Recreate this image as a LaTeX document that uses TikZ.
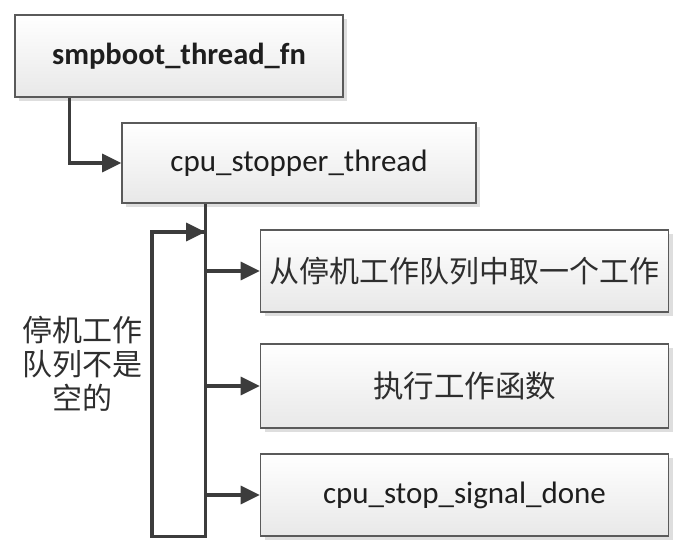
\documentclass[tikz,border=0pt]{standalone}
\usepackage{fontspec}
\setmainfont{Carlito}
\newfontfamily\cjk{Noto Sans CJK SC}
\usetikzlibrary{arrows.meta,shadows}
\definecolor{boxline}{HTML}{5A5A5A}
\definecolor{arrline}{HTML}{3C3C3C}
\definecolor{txt}{HTML}{1E1E1E}
\definecolor{cjktxt}{HTML}{2E2E2E}
\tikzset{
  fbox/.style={draw=boxline, line width=1.6pt, top color=white, bottom color=black!9,
    minimum height=82pt, inner sep=0pt, text=txt, font=\fontsize{31}{34}\selectfont,
    drop shadow={shadow xshift=4pt, shadow yshift=-4pt, fill=black!25, opacity=0.5}},
  conn/.style={draw=arrline, line width=3.2pt, -{Triangle[length=19pt,width=18pt]}},
  plain/.style={draw=arrline, line width=3.2pt},
}
\begin{document}
\begin{tikzpicture}[x=1pt,y=-1pt]
\useasboundingbox (0,0) rectangle (689,556);
\fill[white] (0,0) rectangle (689,556);
\node[fbox, minimum width=328pt, font=\fontsize{30.5}{33}\selectfont\bfseries] (b1) at (179,56) {smpboot\_thread\_fn};
\node[fbox, minimum width=354pt, minimum height=80pt] (b2) at (299,163) {cpu\_stopper\_thread};
\node[fbox, minimum width=408pt, text=cjktxt, font=\fontsize{30}{33}\selectfont\cjk] (b3) at (464.5,271) {从停机工作队列中取一个工作};
\node[fbox, minimum width=408pt, minimum height=84pt, text=cjktxt, font=\fontsize{30.5}{33}\selectfont\cjk] (b4) at (464.5,386) {执行工作函数};
\node[fbox, minimum width=408pt] (b5) at (464.5,495) {cpu\_stop\_signal\_done};
\node[text=cjktxt, align=center, font=\fontsize{30}{34}\selectfont\cjk] (lbl) at (83,364) {停机工作\\队列不是\\空的};
% connectors
\draw[conn] ([xshift=55pt]b1.south west) |- (b2.west);
\coordinate (ttop) at ([xshift=84pt]b2.south west);
\coordinate (tbot) at (ttop |- b5.south);
\coordinate (lbot) at (152,0 |- b5.south);
\coordinate (ltop) at (152,232);
\coordinate (tin) at (ttop |- ltop);
\draw[plain] (ttop) -- (tbot) -- (lbot) -- (ltop) -- ([xshift=-1pt]ltop -| ttop);
\draw[conn] (ltop) -- (tin);
\draw[conn] (ttop |- b3.west) -- (b3.west);
\draw[conn] (ttop |- b4.west) -- (b4.west);
\draw[conn] (ttop |- b5.west) -- (b5.west);
\end{tikzpicture}
\end{document}
